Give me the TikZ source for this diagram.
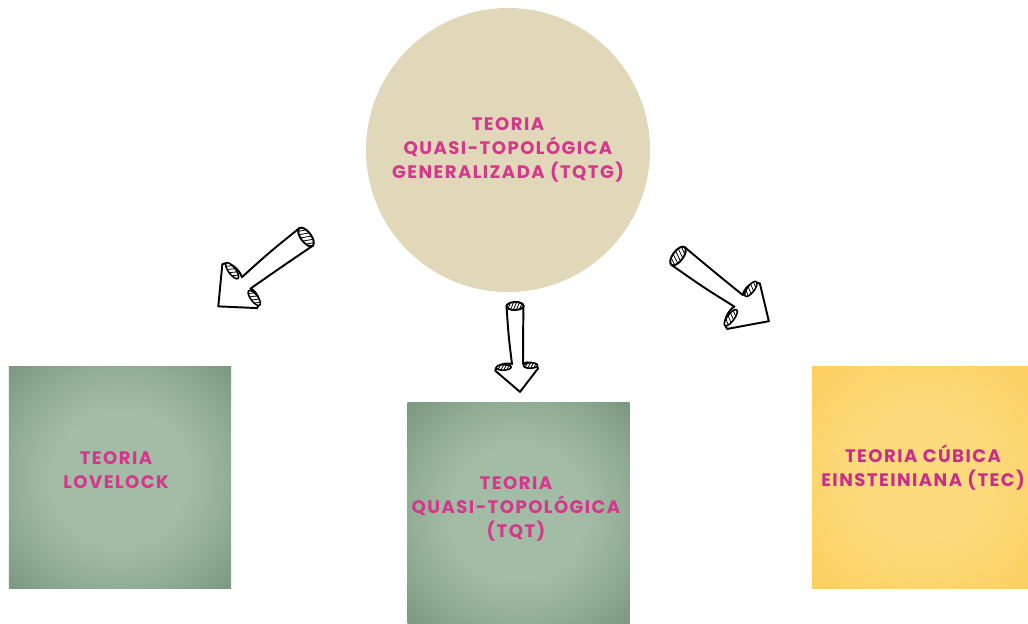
\documentclass[tikz,border=0pt]{standalone}
\usepackage{fontspec}
\newfontfamily\labelfont{Poppins}[LetterSpace=8]
\usepackage{xcolor}
\definecolor{beige}{HTML}{E0D8B9}
\definecolor{pinktext}{HTML}{D4378C}
\definecolor{greenin}{HTML}{A2BCA5}
\definecolor{greenmid}{HTML}{92AD95}
\definecolor{greenout}{HTML}{7A967F}
\definecolor{yellowin}{HTML}{FDDA7C}
\definecolor{yellowout}{HTML}{FBCF5E}
\pgfdeclareradialshading{greenpaper}{\pgfpoint{0cm}{0cm}}{color(0bp)=(greenin); color(15bp)=(greenin); color(25bp)=(greenmid); color(36bp)=(greenout); color(50bp)=(greenout)}
\pgfdeclareradialshading{yellowpaper}{\pgfpoint{0cm}{0cm}}{color(0bp)=(yellowin); color(14bp)=(yellowin); color(36bp)=(yellowout); color(50bp)=(yellowout)}

\tikzset{
  scrollarrow/.pic={
    % body of the rolled arrow
    \draw[fill=white,line width=1.1pt,line join=round]
      (-0.17,0) .. controls (-0.15,-0.6) .. (-0.1,-1.16)
      .. controls (-0.2,-1.12) and (-0.42,-1.15) .. (-0.44,-1.28)
      -- (0.04,-1.72) -- (0.42,-1.26)
      .. controls (0.38,-1.13) and (0.2,-1.11) .. (0.12,-1.16)
      .. controls (0.14,-0.6) .. (0.17,0)
      .. controls (0.12,0.09) and (-0.12,0.09) .. cycle;
    % rolled ends
    \draw[fill=white,line width=1.1pt] (0,0) ellipse (0.17 and 0.08);
    \draw[fill=white,line width=0.9pt] (-0.27,-1.22) ellipse (0.15 and 0.055);
    \draw[fill=white,line width=0.9pt] (0.27,-1.2) ellipse (0.14 and 0.055);
    \begin{scope}
      \clip (0,0) ellipse (0.17 and 0.08);
      \foreach \i in {-0.18,-0.12,...,0.18}
        \draw[line width=0.45pt] (\i-0.04,-0.08) -- (\i+0.04,0.08);
    \end{scope}
    \begin{scope}
      \clip (-0.27,-1.22) ellipse (0.15 and 0.055);
      \foreach \i in {-0.42,-0.36,...,-0.1}
        \draw[line width=0.45pt] (\i-0.03,-1.27) -- (\i+0.03,-1.17);
    \end{scope}
    \begin{scope}
      \clip (0.27,-1.2) ellipse (0.14 and 0.055);
      \foreach \i in {0.12,0.18,...,0.42}
        \draw[line width=0.45pt] (\i-0.03,-1.25) -- (\i+0.03,-1.15);
    \end{scope}
  }
}

\begin{document}
\begin{tikzpicture}[every node/.style={font=\labelfont\bfseries\fontsize{10.3}{13.6}\selectfont,text=pinktext,align=center,inner sep=0pt}]
    \useasboundingbox (0,0) rectangle (20.56,-12.48);
    \clip (0,0) rectangle (20.56,-12.48);

    \node[circle,fill=beige,minimum size=5.68cm] (tqtg) at (10.16,-3.0) {TEORIA\\QUASI-TOPOLÓGICA\\GENERALIZADA (TQTG)};
    \node[rectangle,shading=greenpaper,minimum size=4.44cm] (lovelock) at (2.4,-9.54) {};
    \node[rectangle,shading=greenpaper,minimum size=4.44cm] (tqt) at (10.37,-10.27) {};
    \node[rectangle,shading=yellowpaper,minimum size=4.44cm] (tec) at (18.46,-9.54) {};

    \node (lovelocktext) at ([xshift=-0.08cm,yshift=0.14cm]lovelock.center) {TEORIA\\LOVELOCK};
    \node (tqttext) at ([xshift=-0.05cm,yshift=0.09cm]tqt.center) {TEORIA\\QUASI-TOPOLÓGICA\\(TQT)};
    \node[text=pinktext!85!violet] (tectext) at ([yshift=0.18cm]tec.center) {TEORIA CÚBICA\\EINSTEINIANA (TEC)};

    \tikzset{every node/.style={}}
    \coordinate (a1) at (6.12,-4.74);
    \coordinate (a2) at (10.3,-6.12);
    \coordinate (a3) at (13.56,-5.12);
    \pic[rotate=-53,scale=1.3] at (a1) {scrollarrow};
    \pic[rotate=2] at (a2) {scrollarrow};
    \pic[rotate=53,scale=1.3] at (a3) {scrollarrow};
\end{tikzpicture}
\end{document}
